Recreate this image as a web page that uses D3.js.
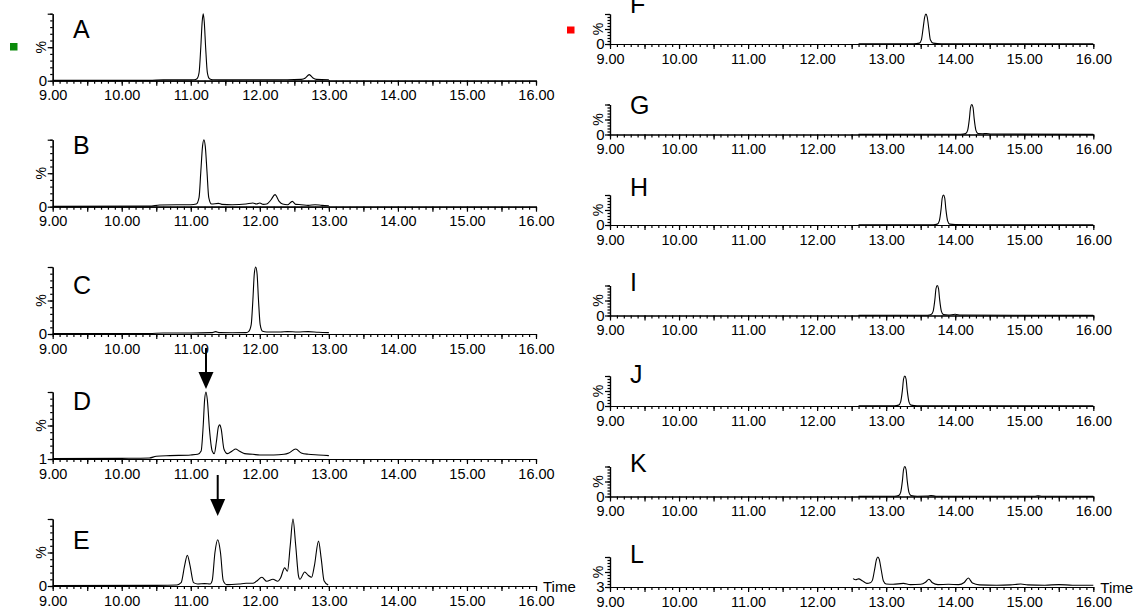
<!DOCTYPE html>
<html>
<head>
<meta charset="utf-8">
<script src="https://cdn.jsdelivr.net/npm/d3@7"></script>
<style>
  body { margin: 0; background: #fff; }
  svg text { font-family: "Liberation Sans", Arial, Helvetica, sans-serif; }
</style>
</head>
<body>
<script>
// ---- chart values ----
const timeTicks = [9, 10, 11, 12, 13, 14, 15, 16];
const leftLetters = ["A", "B", "C", "D", "E"];
const rightLetters = ["F", "G", "H", "I", "J", "K", "L"];
const leftZeroLabels = ["0", "0", "0", "1", "0"];
const rightZeroLabels = ["0", "0", "0", "0", "0", "0", "3"];
const arrowPanels = ["D", "E"];
const arrowTimes = [11.22, 11.39];

// each trace: [retention time (min), intensity (%)]
const traceA = [[9.00,0.5],[10.40,0.5],[10.60,1.2],[10.90,1.2],[11.05,1.5],[11.09,3],[11.12,12],[11.145,50],[11.165,88],[11.18,100],[11.195,88],[11.215,50],[11.24,12],[11.27,3],[11.32,1.5],[11.60,1.2],[12.00,1.5],[12.40,1.5],[12.60,2],[12.66,4],[12.715,9],[12.77,4],[12.82,2],[13.00,1.5]];
const traceB = [[9.00,0.5],[10.40,0.8],[10.55,2.5],[10.80,3],[11.00,3],[11.08,4],[11.12,14],[11.145,52],[11.17,90],[11.19,100],[11.21,90],[11.235,52],[11.26,14],[11.30,4],[11.40,5],[11.45,3.5],[11.60,3],[11.80,4],[11.90,5.5],[11.95,4],[12.00,5.5],[12.05,3.5],[12.10,4],[12.16,10],[12.22,18],[12.28,8],[12.33,4],[12.40,3],[12.47,8],[12.52,3.5],[12.60,3],[12.70,2],[12.80,3],[12.90,2],[13.00,1.5]];
const traceC = [[9.00,0.5],[10.40,0.7],[10.60,1.5],[11.00,1.5],[11.30,2],[11.36,3.5],[11.42,2],[11.60,1.8],[11.80,2],[11.84,4],[11.875,14],[11.90,52],[11.92,90],[11.94,100],[11.96,90],[11.98,52],[12.005,14],[12.04,4],[12.10,3],[12.30,3],[12.40,3.5],[12.55,3],[12.70,3.5],[12.85,2.5],[13.00,2]];
const traceD = [[9.00,0.5],[10.00,1],[10.40,1.5],[10.50,4],[10.70,5],[11.00,6],[11.10,7],[11.15,12],[11.18,50],[11.20,88],[11.22,100],[11.24,88],[11.27,45],[11.31,12],[11.34,8],[11.37,25],[11.40,48],[11.42,51],[11.44,45],[11.48,15],[11.53,8],[11.60,12],[11.65,15],[11.70,12],[11.78,8],[11.90,7],[12.00,6],[12.20,6],[12.35,7],[12.42,9],[12.52,15],[12.60,9],[12.70,7],[12.85,6],[13.00,5]];
const traceE = [[9.00,0.5],[10.50,1],[10.80,1.5],[10.86,5],[10.91,30],[10.95,46],[10.99,30],[11.04,5],[11.10,3],[11.20,3.5],[11.28,3],[11.31,8],[11.35,50],[11.39,69],[11.43,50],[11.47,8],[11.52,2],[11.70,3],[11.80,4],[11.90,4],[11.95,7],[12.03,13],[12.10,7],[12.19,10],[12.26,7],[12.30,12],[12.36,27],[12.40,22],[12.44,60],[12.48,100],[12.52,60],[12.56,15],[12.58,10],[12.65,21],[12.70,16],[12.75,13],[12.79,30],[12.85,67],[12.89,40],[12.93,8],[12.99,1.5]];

const traceF = [[12.60,0.5],[13.40,1],[13.48,3],[13.51,14],[13.535,52],[13.558,90],[13.576,100],[13.594,90],[13.617,52],[13.64,14],[13.68,3],[13.80,1],[16.00,0.5]];
const traceG = [[12.60,0.5],[14.08,1],[14.15,3],[14.18,14],[14.205,52],[14.222,90],[14.24,100],[14.258,90],[14.275,52],[14.30,14],[14.33,3],[14.40,2.5],[14.45,3.5],[14.52,1.5],[16.00,0.5]];
const traceH = [[12.60,0.5],[13.68,1],[13.74,3],[13.77,14],[13.795,52],[13.812,90],[13.83,100],[13.848,90],[13.865,52],[13.89,14],[13.92,3],[14.00,1.5],[14.30,1],[16.00,0.5]];
const traceI = [[12.60,0.5],[13.20,1],[13.60,1],[13.65,3],[13.68,14],[13.705,52],[13.722,90],[13.74,100],[13.758,90],[13.775,52],[13.80,14],[13.83,3],[13.90,1.5],[14.00,4],[14.08,1.5],[16.00,0.5]];
const traceJ = [[12.60,0.5],[13.12,1],[13.18,3],[13.21,14],[13.235,52],[13.252,90],[13.27,100],[13.288,90],[13.305,52],[13.33,14],[13.36,3],[13.45,1],[16.00,0.5]];
const traceK = [[12.60,0.5],[13.12,1],[13.18,3],[13.21,14],[13.235,52],[13.252,90],[13.27,100],[13.288,90],[13.305,52],[13.33,14],[13.36,3],[13.45,1],[13.60,1.5],[13.65,3],[13.72,1],[15.15,1],[15.20,2.5],[15.26,1],[16.00,0.5]];
const traceL = [[12.52,28],[12.56,24],[12.60,27],[12.66,20],[12.72,12],[12.77,14],[12.80,22],[12.83,55],[12.86,92],[12.88,100],[12.90,92],[12.93,55],[12.96,20],[13.00,10],[13.10,9],[13.25,12],[13.35,8],[13.50,9],[13.57,16],[13.62,26],[13.67,14],[13.75,8],[13.90,9],[14.05,8],[14.13,15],[14.19,30],[14.25,13],[14.35,7],[14.60,6],[14.80,7],[14.95,10],[15.05,7],[15.30,6],[15.50,8],[15.70,6],[16.00,6]];

const leftTraces = [traceA, traceB, traceC, traceD, traceE];
const rightTraces = [traceF, traceG, traceH, traceI, traceJ, traceK, traceL];

// ---- layout (pixels) ----
const width = 1135, height = 608;
const leftRange = [52.7, 536];
const rightRange = [610, 1093.3];
const leftBase = [80.7, 206.7, 334, 459, 586];
const rightBase = [44, 134.5, 225, 315.5, 406, 496.5, 587];
const leftHeight = 67, rightHeight = 30;
const leftLetterY = [29, 145, 285, 401, 540];
const rightLetterY = [4.5, 105, 187, 282, 374, 463, 554];

const svg = d3.select("body")
  .append("svg")
  .attr("width", width)
  .attr("height", height);

function drawPanel(o) {
  const x = d3.scaleLinear().domain([9, 16]).range(o.xRange);
  const y = d3.scaleLinear().domain([0, 100]).range([o.base, o.base - o.h]);
  const g = svg.append("g");

  // minor x ticks every 0.1
  g.append("g")
    .attr("transform", `translate(0, ${o.base})`)
    .call(d3.axisBottom(x)
      .tickValues(d3.range(90, 161).map(d => d / 10))
      .tickSize(3).tickSizeOuter(0).tickFormat(""));

  // major x ticks every 0.5, labels on whole minutes
  g.append("g")
    .attr("transform", `translate(0, ${o.base})`)
    .call(d3.axisBottom(x)
      .tickValues(d3.range(18, 33).map(d => d / 2))
      .tickSize(5).tickSizeOuter(0).tickPadding(4.5)
      .tickFormat(d => timeTicks.includes(d) ? d.toFixed(2) : ""));

  // y axis
  g.append("g")
    .attr("transform", `translate(${o.xRange[0]}, 0)`)
    .call(d3.axisLeft(y)
      .tickValues(d3.range(0, 101, 10))
      .tickSize(2.5).tickSizeOuter(0).tickFormat(""));
  g.append("g")
    .attr("transform", `translate(${o.xRange[0]}, 0)`)
    .call(d3.axisLeft(y)
      .tickValues([0, 50, 100])
      .tickSize(5).tickSizeOuter(0).tickFormat(""));

  g.selectAll("path.domain, line")
    .attr("stroke", "#000")
    .attr("stroke-width", 1.2);
  g.selectAll("text")
    .attr("font-size", 14.5)
    .attr("font-family", "'Liberation Sans', Arial, sans-serif")
    .attr("fill", "#000");

  // y label "0" and "%"
  g.append("text")
    .attr("x", o.xRange[0] - 5.5)
    .attr("y", o.base + 5.4)
    .attr("text-anchor", "end")
    .style("font-size", "15px")
    .text(o.zero);

  g.append("text")
    .attr("transform", `translate(${o.xRange[0] - 12}, ${o.base - o.h / 2}) rotate(-90)`)
    .attr("text-anchor", "middle")
    .attr("dominant-baseline", "central")
    .style("font-size", "14px")
    .text("%");

  // panel letter
  g.append("text")
    .attr("x", o.letterX)
    .attr("y", o.letterY + 8.7)
    .style("font-size", "25px")
    .text(o.letter);

  // trace
  const line = d3.line()
    .x(d => x(d[0]))
    .y(d => y(d[1]))
    .curve(d3.curveMonotoneX);

  g.append("path")
    .datum(o.data)
    .attr("d", line)
    .attr("fill", "none")
    .attr("stroke", "#000")
    .attr("stroke-width", 1.1);

  if (o.time) {
    g.append("text")
      .attr("x", o.xRange[1] + 7)
      .attr("y", o.base + 5.5)
      .style("font-size", "15px")
      .text("Time");
  }

  const ai = arrowPanels.indexOf(o.letter);
  if (ai >= 0) {
    const ax = x(arrowTimes[ai]);
    const top = o.base - o.h - 44;
    g.append("line")
      .attr("x1", ax).attr("x2", ax)
      .attr("y1", top).attr("y2", top + 26)
      .attr("stroke", "#000")
      .attr("stroke-width", 2);
    g.append("path")
      .attr("d", `M${ax - 7.5},${top + 24}L${ax + 7.5},${top + 24}L${ax},${top + 41}Z`)
      .attr("fill", "#000");
  }
}

leftTraces.forEach((data, i) => {
  drawPanel({
    xRange: leftRange, base: leftBase[i], h: leftHeight,
    data, letter: leftLetters[i], zero: leftZeroLabels[i],
    letterX: 73, letterY: leftLetterY[i], time: i === leftTraces.length - 1
  });
});

rightTraces.forEach((data, i) => {
  drawPanel({
    xRange: rightRange, base: rightBase[i], h: rightHeight,
    data, letter: rightLetters[i], zero: rightZeroLabels[i],
    letterX: 630, letterY: rightLetterY[i], time: i === rightTraces.length - 1
  });
});

// channel markers
svg.append("rect")
  .attr("x", 10).attr("y", 43).attr("width", 7.5).attr("height", 7.5)
  .attr("fill", "#0a8a0a");
svg.append("rect")
  .attr("x", 567).attr("y", 26.5).attr("width", 7.5).attr("height", 7)
  .attr("fill", "#ff0000");
</script>
</body>
</html>
